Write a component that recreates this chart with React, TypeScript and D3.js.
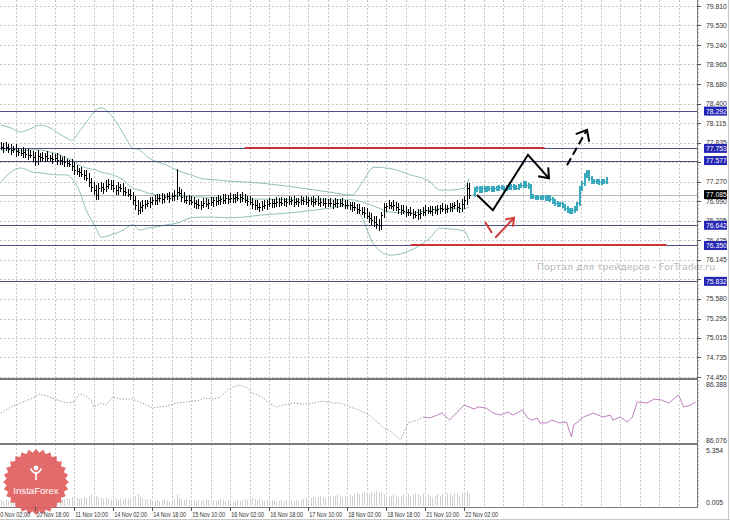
import React from "react";
import * as d3 from "d3";

// ---------- DATA ----------
const priceTicks = [79.81, 79.53, 79.24, 78.965, 78.68, 78.4, 78.115, 77.835, 77.55, 77.27, 76.99, 76.705, 76.425, 76.145, 75.86, 75.58, 75.295, 75.015, 74.735, 74.45];
const timeLabels = ["10 Nov 02:00", "10 Nov 18:00", "11 Nov 10:00", "14 Nov 02:00", "14 Nov 18:00", "15 Nov 10:00", "16 Nov 02:00", "16 Nov 18:00", "17 Nov 10:00", "18 Nov 02:00", "18 Nov 18:00", "21 Nov 10:00", "22 Nov 02:00"];
const timeLabelBars = [-2, 14, 30, 46, 62, 78, 94, 110, 126, 142, 158, 174, 190];
const gridBars = [-2, 6, 14, 22, 30, 38, 46, 54, 62, 70, 78, 86, 94, 102, 110, 118, 126, 134, 142, 150, 158, 166, 174, 182, 190, 198, 206, 214, 222, 230, 238, 246, 254, 262, 270, 278, 286];

const closes = [77.78, 77.76, 77.77, 77.75, 77.73, 77.74, 77.71, 77.70, 77.69, 77.70, 77.67, 77.66, 77.66, 77.63, 77.57, 77.64, 77.63, 77.62, 77.64, 77.61, 77.61, 77.60, 77.62, 77.59, 77.58, 77.57, 77.55, 77.54, 77.53, 77.50, 77.44, 77.42, 77.41, 77.39, 77.37, 77.33, 77.27, 77.20, 77.15, 77.08, 77.18, 77.20, 77.17, 77.21, 77.24, 77.22, 77.18, 77.15, 77.19, 77.18, 77.14, 77.12, 77.10, 77.08, 77.00, 76.93, 76.86, 76.90, 76.93, 76.95, 76.96, 76.98, 77.00, 77.01, 77.03, 77.04, 77.02, 77.05, 77.06, 77.04, 77.06, 77.08, 77.12, 77.11, 77.05, 77.01, 77.00, 77.01, 76.98, 76.96, 76.95, 76.93, 76.94, 76.96, 76.95, 76.97, 76.98, 77.00, 76.99, 77.01, 77.02, 77.00, 77.03, 77.02, 77.04, 77.03, 77.05, 77.04, 77.05, 77.03, 77.01, 76.99, 76.98, 76.95, 76.93, 76.91, 76.90, 76.92, 76.93, 76.95, 76.96, 76.97, 76.96, 76.98, 76.98, 76.97, 76.99, 76.98, 76.99, 77.00, 76.98, 76.99, 76.98, 77.00, 76.99, 76.98, 77.00, 76.99, 76.98, 76.99, 76.97, 76.98, 76.97, 76.96, 76.97, 76.96, 76.95, 76.96, 76.97, 76.96, 76.95, 76.94, 76.93, 76.93, 76.91, 76.90, 76.88, 76.86, 76.84, 76.82, 76.78, 76.75, 76.72, 76.69, 76.66, 76.65, 76.79, 76.90, 76.92, 76.93, 76.92, 76.93, 76.90, 76.88, 76.86, 76.85, 76.83, 76.83, 76.82, 76.80, 76.79, 76.80, 76.82, 76.84, 76.86, 76.85, 76.85, 76.87, 76.86, 76.87, 76.89, 76.88, 76.87, 76.89, 76.90, 76.92, 76.93, 76.91, 76.89, 76.95, 77.01, 77.18, 77.085];
const wickUp = [7, 5, 8, 5, 7, 5, 7, 5, 5, 7, 5, 8, 7, 5, 7, 9, 5, 7, 5, 7, 5, 8, 5, 7, 7, 5, 7, 5, 5, 7, 5, 7, 5, 7, 5, 7, 7, 5, 7, 8, 8, 7, 5, 9, 7, 5, 7, 5, 8, 5, 7, 5, 5, 7, 5, 7, 7, 8, 7, 5, 5, 7, 5, 7, 7, 5, 7, 5, 5, 7, 5, 7, 34, 7, 5, 7, 5, 7, 5, 7, 5, 7, 5, 7, 7, 5, 7, 5, 5, 7, 5, 7, 7, 5, 7, 5, 5, 7, 5, 7, 7, 5, 7, 5, 5, 7, 5, 7, 7, 5, 7, 5, 5, 7, 5, 7, 5, 5, 7, 5, 7, 5, 5, 7, 5, 7, 5, 5, 7, 5, 7, 5, 5, 7, 5, 7, 5, 7, 5, 5, 7, 5, 7, 5, 5, 7, 5, 7, 5, 7, 7, 5, 7, 5, 8, 7, 5, 7, 5, 7, 5, 7, 5, 7, 5, 7, 7, 5, 7, 5, 5, 7, 5, 7, 7, 5, 7, 5, 5, 7, 5, 7, 7, 5, 7, 5, 5, 7, 5, 7, 5, 7, 8, 16, 6];
const wickDn = [5, 7, 5, 7, 7, 5, 8, 5, 5, 7, 5, 7, 5, 7, 7, 5, 7, 5, 7, 5, 5, 7, 5, 7, 7, 5, 7, 5, 5, 7, 7, 5, 7, 5, 7, 5, 8, 7, 7, 7, 7, 5, 7, 5, 5, 7, 5, 7, 7, 5, 7, 5, 5, 7, 7, 7, 7, 5, 7, 5, 5, 7, 5, 7, 7, 5, 7, 5, 5, 7, 5, 7, 7, 5, 7, 5, 5, 7, 5, 7, 7, 5, 7, 5, 5, 7, 5, 7, 7, 5, 7, 5, 5, 7, 5, 7, 7, 5, 7, 5, 5, 7, 5, 7, 7, 5, 7, 5, 5, 7, 5, 7, 7, 5, 7, 5, 5, 7, 5, 5, 7, 5, 7, 5, 5, 5, 7, 5, 7, 5, 5, 7, 5, 7, 5, 5, 7, 5, 7, 5, 5, 7, 5, 7, 7, 5, 7, 5, 5, 7, 5, 7, 7, 7, 7, 9, 7, 5, 7, 5, 5, 7, 5, 7, 7, 5, 7, 5, 5, 7, 5, 7, 7, 5, 7, 5, 5, 7, 5, 7, 7, 5, 7, 5, 5, 7, 5, 7, 7, 5, 7, 7, 6];
const volumes = [0.6, 0.5, 0.7, 0.5, 0.6, 0.4, 0.5, 0.6, 0.5, 0.7, 0.6, 0.5, 0.6, 0.8, 0.9, 0.6, 0.5, 0.6, 0.4, 0.5, 0.6, 0.5, 0.7, 0.6, 0.5, 0.6, 0.7, 0.8, 0.7, 0.9, 1.0, 0.8, 0.7, 0.8, 0.9, 0.8, 1.0, 1.1, 0.9, 1.0, 0.9, 0.8, 0.7, 0.8, 0.7, 0.6, 0.7, 0.8, 0.6, 0.7, 0.6, 0.8, 0.7, 0.8, 0.9, 1.0, 1.1, 0.9, 0.8, 0.7, 0.6, 0.7, 0.6, 0.5, 0.6, 0.5, 0.6, 0.7, 0.6, 0.5, 0.6, 0.7, 1.1, 0.8, 0.7, 0.6, 0.7, 0.6, 0.5, 0.6, 0.5, 0.6, 0.5, 0.6, 0.7, 0.6, 0.5, 0.6, 0.5, 0.6, 0.7, 0.6, 0.5, 0.6, 0.5, 0.4, 0.5, 0.6, 0.5, 0.6, 0.7, 0.6, 0.7, 0.8, 0.7, 0.6, 0.7, 0.6, 0.5, 0.6, 0.5, 0.6, 0.5, 0.4, 0.5, 0.6, 0.5, 0.6, 0.7, 0.6, 0.5, 0.6, 0.5, 0.6, 0.7, 0.8, 0.7, 0.8, 0.9, 0.8, 0.9, 1.0, 0.9, 0.8, 0.9, 1.0, 0.9, 1.0, 1.1, 1.0, 0.9, 1.0, 0.9, 1.1, 1.0, 1.1, 1.2, 1.1, 1.2, 1.3, 1.2, 1.1, 1.3, 1.2, 1.4, 1.3, 1.3, 1.1, 1.0, 0.9, 1.0, 1.1, 1.0, 0.9, 1.0, 1.1, 1.0, 1.1, 1.0, 1.1, 1.2, 1.1, 1.0, 1.1, 1.0, 1.1, 1.0, 0.9, 1.0, 1.1, 1.0, 1.1, 1.0, 1.2, 1.1, 1.0, 1.2, 1.1, 1.0, 1.2, 1.3, 1.4, 1.1];

const forecastStart = 194;
const forecast = [77.16, 77.17, 77.15, 77.17, 77.16, 77.18, 77.17, 77.16, 77.18, 77.17, 77.19, 77.18, 77.17, 77.19, 77.18, 77.20, 77.19, 77.18, 77.21, 77.22, 77.24, 77.22, 77.20, 77.06, 77.05, 77.04, 77.05, 77.04, 77.05, 77.03, 77.04, 77.02, 76.99, 76.96, 76.94, 76.95, 76.92, 76.88, 76.86, 76.84, 76.86, 76.88, 76.95, 77.17, 77.25, 77.36, 77.40, 77.32, 77.27, 77.28, 77.27, 77.26, 77.28, 77.27, 77.30];

const bbBars = [0, 4, 8, 13, 16, 20, 24, 27, 29, 32, 35, 39, 41, 45, 50, 54, 57, 60, 64, 68, 72, 78, 82, 87, 94, 107, 121, 135, 144, 148, 153, 160, 168, 176, 180, 184, 190, 192];
const bbUpper = [78.09, 78.05, 77.99, 78.05, 78.09, 78.05, 77.96, 77.90, 77.87, 77.99, 78.13, 78.31, 78.34, 78.24, 77.98, 77.76, 77.73, 77.63, 77.56, 77.51, 77.44, 77.37, 77.32, 77.30, 77.28, 77.25, 77.19, 77.12, 77.08, 77.25, 77.48, 77.46, 77.37, 77.27, 77.15, 77.15, 77.18, 77.32];
const bbMid = [77.73, 77.73, 77.72, 77.73, 77.73, 77.70, 77.66, 77.61, 77.59, 77.51, 77.47, 77.44, 77.41, 77.38, 77.30, 77.18, 77.15, 77.11, 77.08, 77.06, 77.06, 77.05, 77.05, 77.04, 77.02, 77.02, 77.01, 77.01, 77.01, 76.98, 76.92, 76.83, 76.82, 76.86, 76.88, 76.88, 76.88, 76.91];
const bbLower = [77.27, 77.41, 77.47, 77.41, 77.40, 77.38, 77.37, 77.37, 77.32, 77.15, 76.86, 76.60, 76.47, 76.50, 76.57, 76.65, 76.57, 76.60, 76.62, 76.65, 76.67, 76.75, 76.76, 76.76, 76.75, 76.79, 76.83, 76.89, 76.93, 76.76, 76.36, 76.21, 76.28, 76.46, 76.60, 76.59, 76.56, 76.43];

const blueLevels = [78.292, 77.753, 77.577, 76.642, 76.35, 75.832];
const currentPrice = 77.085;
const redLevelPrices = [77.753, 76.35];
const redLevelFrom = [100, 168];
const redLevelTo = [223, 273];

const arrowBars = [195.3, 201.8, 216.2, 224.8];
const arrowPrices = [77.08, 76.86, 77.66, 77.32];
const dashArrowBars = [232.2, 240.4];
const dashArrowPrices = [77.51, 78.02];
const redArrowBars = [198.6, 202.7, 210.5];
const redArrowPrices = [76.69, 76.46, 76.75];

const indBars = [0, 4, 8, 13, 16, 20, 23, 27, 30, 32, 34, 37, 38, 41, 43, 46, 49, 54, 58, 62, 65, 68, 72, 76, 82, 83, 87, 90, 93, 95, 98, 101, 103, 107, 110, 113, 116, 120, 124, 128, 132, 136, 139, 143, 147, 151, 157, 160, 164, 167, 171, 173, 176, 179, 181, 184, 188, 190, 194, 196, 199, 202, 205, 208, 210, 214, 216, 218, 220, 221, 224, 226, 229, 232, 234, 235, 239, 243, 247, 250, 251, 254, 257, 259, 261, 265, 268, 271, 274, 278, 280, 283, 285];
const indVals = [86.226, 86.260, 86.282, 86.310, 86.332, 86.316, 86.299, 86.282, 86.288, 86.332, 86.327, 86.299, 86.260, 86.282, 86.271, 86.316, 86.304, 86.304, 86.282, 86.254, 86.260, 86.265, 86.282, 86.288, 86.299, 86.310, 86.304, 86.316, 86.355, 86.371, 86.382, 86.366, 86.338, 86.316, 86.282, 86.260, 86.271, 86.282, 86.276, 86.282, 86.293, 86.282, 86.282, 86.260, 86.243, 86.215, 86.143, 86.121, 86.076, 86.171, 86.187, 86.204, 86.199, 86.215, 86.226, 86.187, 86.243, 86.271, 86.249, 86.260, 86.254, 86.226, 86.215, 86.232, 86.215, 86.243, 86.199, 86.187, 86.199, 86.171, 86.171, 86.187, 86.171, 86.176, 86.093, 86.160, 86.204, 86.226, 86.204, 86.215, 86.187, 86.204, 86.176, 86.204, 86.288, 86.282, 86.304, 86.299, 86.282, 86.327, 86.260, 86.271, 86.288];
const indSolidFromBar = 173;
const indLabels = ["86.388", "86.076"];
const indLabelValues = [86.388, 86.076];
const volLabels = ["5.354", "0.005"];
const volLabelValues = [5.354, 0.005];

const watermark = "Портал для трейдеров - ForTrader.ru";
const logoText = "InstaForex";

// ---------- SCALES ----------
const AXIS_X = 697;
const x = d3.scaleLinear().domain([0, 285]).range([1, 1 + 285 * 2.4375]);
const y = d3.scaleLinear().domain([74.45, 79.81]).range([377, 6]);
const yInd = d3.scaleLinear().domain([86.076, 86.388]).range([440, 384]);
const yVol = d3.scaleLinear().domain([0, 5.354]).range([506, 450]);

const FONT = "'Liberation Sans', Arial, sans-serif";

function head(x1: number, y1: number, x2: number, y2: number, len: number, spread: number) {
  const a = Math.atan2(y1 - y2, x1 - x2);
  return `M${x2 + len * Math.cos(a + spread)},${y2 + len * Math.sin(a + spread)}L${x2},${y2}L${x2 + len * Math.cos(a - spread)},${y2 + len * Math.sin(a - spread)}`;
}

export default function App() {
  const crisp = (v: number) => Math.round(v) + 0.5;

  const bandLine = (vals: number[]) =>
    d3.line<number>().x((_, i) => x(bbBars[i])).y((v) => y(v)).curve(d3.curveMonotoneX)(vals) || "";

  const indPts = indBars.map((b, i) => [x(b), yInd(indVals[i])] as [number, number]);
  const splitIdx = indBars.indexOf(indSolidFromBar);
  const lineGen = d3.line().curve(d3.curveLinear);
  const indDotted = lineGen(indPts.slice(0, splitIdx + 1)) || "";
  const indSolid = lineGen(indPts.slice(splitIdx)) || "";

  const bars = closes.map((c, i) => {
    const o = i > 0 ? closes[i - 1] : c;
    const hi = Math.max(o, c) + (wickUp[i] ?? 5) / 100;
    const lo = Math.min(o, c) - (wickDn[i] ?? 5) / 100;
    const px = crisp(x(i));
    return { px, o: y(o), c: y(c), hi: y(hi), lo: y(lo) };
  });

  const fBars = forecast.map((c, i) => {
    const o = i > 0 ? forecast[i - 1] : closes[closes.length - 1];
    const hi = Math.max(o, c) + 0.035;
    const lo = Math.min(o, c) - 0.035;
    return { px: Math.round(x(forecastStart + i)), hi: y(hi), lo: y(lo), o: y(o), c: y(c) };
  });

  const arrowPts = arrowBars.map((b, i) => [x(b), y(arrowPrices[i])]);
  const dashPts = dashArrowBars.map((b, i) => [x(b), y(dashArrowPrices[i])]);
  const redPts = redArrowBars.map((b, i) => [x(b), y(redArrowPrices[i])]);
  const ptsStr = (p: number[][]) => p.map((q) => q.join(",")).join(" ");
  const last = (p: number[][]) => p[p.length - 1];
  const prev = (p: number[][]) => p[p.length - 2];

  const star = d3.range(56).map((k) => {
    const r = k % 2 === 0 ? 33 : 29.5;
    const a = (k * Math.PI) / 28 - Math.PI / 2;
    return [36 + r * Math.cos(a), 482 + r * Math.sin(a)];
  });

  const labelX = 706;
  // tick labels that sit fully under a level box are not shown (as in the terminal)
  const visibleTicks = priceTicks.filter((t) => !blueLevels.some((p) => Math.abs(y(p) - y(t)) < 4));

  return (
    <svg width={730} height={520} style={{ position: "absolute", left: 0, top: 0 }} fontFamily={FONT}>
      <defs>
        <clipPath id="mainClip"><rect x={0} y={0} width={AXIS_X} height={378} /></clipPath>
        <clipPath id="indClip"><rect x={0} y={381} width={AXIS_X} height={62} /></clipPath>
        <clipPath id="allClip"><rect x={0} y={0} width={730} height={520} /></clipPath>
      </defs>
      <rect x={0} y={0} width={730} height={520} fill="#ffffff" />

      {/* grid */}
      <g stroke="#c8c8c8" strokeWidth={1} strokeDasharray="2,2" shapeRendering="crispEdges">
        {priceTicks.map((t) => (
          <line key={"h" + t} x1={0} x2={AXIS_X} y1={crisp(y(t))} y2={crisp(y(t))} />
        ))}
        {gridBars.map((b) => (
          <line key={"v" + b} x1={crisp(x(b))} x2={crisp(x(b))} y1={0} y2={507} />
        ))}
      </g>

      {/* volume histogram */}
      <g stroke="#d0d0d0" strokeWidth={1} shapeRendering="crispEdges">
        {volumes.map((v, i) => (
          <line key={"vol" + i} x1={crisp(x(i))} x2={crisp(x(i))} y1={yVol(0)} y2={yVol(v)} />
        ))}
      </g>

      <g clipPath="url(#mainClip)">
        {/* bollinger */}
        <g fill="none" stroke="#8fc2b2" strokeWidth={1}>
          <path d={bandLine(bbUpper)} />
          <path d={bandLine(bbMid)} />
          <path d={bandLine(bbLower)} />
        </g>

        {/* current price line */}
        <line x1={0} x2={AXIS_X} y1={crisp(y(currentPrice))} y2={crisp(y(currentPrice))} stroke="#b4b4b4" strokeWidth={1} shapeRendering="crispEdges" />

        {/* blue level lines */}
        {blueLevels.map((p) => (
          <line key={"bl" + p} x1={0} x2={AXIS_X} y1={crisp(y(p))} y2={crisp(y(p))} stroke="#4e4e86" strokeWidth={1} shapeRendering="crispEdges" />
        ))}

        {/* red lines */}
        {redLevelPrices.map((p, i) => (
          <line key={"rl" + i} x1={x(redLevelFrom[i])} x2={x(redLevelTo[i])} y1={Math.round(y(p))} y2={Math.round(y(p))} stroke="#c83434" strokeWidth={2} />
        ))}

        {/* OHLC bars */}
        <g stroke="#000" strokeWidth={1} shapeRendering="crispEdges">
          {bars.map((b, i) => (
            <g key={"b" + i}>
              <line x1={b.px} x2={b.px} y1={b.hi} y2={b.lo} />
              <line x1={b.px - 1} x2={b.px} y1={crisp(b.o)} y2={crisp(b.o)} />
              <line x1={b.px} x2={b.px + 1.5} y1={crisp(b.c)} y2={crisp(b.c)} />
            </g>
          ))}
        </g>

        {/* forecast bars */}
        <g stroke="#3aa9bd" shapeRendering="crispEdges">
          {fBars.map((b, i) => (
            <g key={"f" + i}>
              <line x1={b.px + 0.5} x2={b.px + 0.5} y1={b.hi} y2={b.lo} strokeWidth={2} />
              <line x1={b.px - 1} x2={b.px + 1} y1={b.o} y2={b.o} strokeWidth={1} />
              <line x1={b.px} x2={b.px + 2} y1={b.c} y2={b.c} strokeWidth={1} />
            </g>
          ))}
        </g>

        {/* arrows */}
        <g fill="none" strokeWidth={2} strokeLinecap="butt" strokeLinejoin="miter">
          <polyline points={ptsStr(arrowPts)} stroke="#000" />
          <path d={head(prev(arrowPts)[0], prev(arrowPts)[1], last(arrowPts)[0], last(arrowPts)[1], 11, 0.66)} stroke="#000" />
          <polyline points={ptsStr(dashPts)} stroke="#000" strokeDasharray="8,4" />
          <path d={head(prev(dashPts)[0], prev(dashPts)[1], last(dashPts)[0], last(dashPts)[1], 12, 0.7)} stroke="#000" />
          <polyline points={ptsStr(redPts)} stroke="#d03c3c" strokeDasharray="13,6,40" />
          <path d={head(prev(redPts)[0], prev(redPts)[1], last(redPts)[0], last(redPts)[1], 9, 0.63)} stroke="#d03c3c" />
        </g>
      </g>

      {/* watermark */}
      <text x={537} y={270} fontSize={9.4} fill="#b8b8b8" fontFamily="'DejaVu Sans', Verdana, sans-serif">{watermark}</text>

      {/* indicator */}
      <g clipPath="url(#indClip)" fill="none">
        <path d={indDotted} stroke="#a98ca4" strokeWidth={1} strokeDasharray="1.3,1.7" />
        <path d={indSolid} stroke="#c07fc0" strokeWidth={1} />
      </g>

      {/* panel separators and axes */}
      <g shapeRendering="crispEdges">
        <rect x={0} y={378} width={AXIS_X + 1} height={2} fill="#7a7a7a" />
        <rect x={0} y={443} width={AXIS_X + 1} height={2} fill="#7a7a7a" />
        <line x1={0} x2={AXIS_X} y1={507.5} y2={507.5} stroke="#7a7a7a" />
        <line x1={AXIS_X + 0.5} x2={AXIS_X + 0.5} y1={0} y2={508} stroke="#7a7a7a" />
        <line x1={728.5} x2={728.5} y1={0} y2={520} stroke="#c8c8c8" />
        <line x1={0} x2={730} y1={519.5} y2={519.5} stroke="#c8c8c8" />
      </g>

      {/* price axis labels */}
      <g fontSize={6.8} fill="#333">
        {priceTicks.map((t) => (
          <line key={"pt" + t} x1={AXIS_X} x2={AXIS_X + 4} y1={crisp(y(t))} y2={crisp(y(t))} stroke="#555" shapeRendering="crispEdges" />
        ))}
        {visibleTicks.map((t) => (
          <text key={"pl" + t} x={labelX} y={y(t)} dominantBaseline="central">{t.toFixed(3)}</text>
        ))}
        {indLabels.map((l, i) => (
          <text key={"il" + l} x={labelX} y={yInd(indLabelValues[i])} dominantBaseline="central">{l}</text>
        ))}
        {volLabels.map((l, i) => (
          <text key={"vl" + l} x={labelX} y={i === 0 ? yVol(volLabelValues[i]) : yVol(volLabelValues[i]) - 3} dominantBaseline="central">{l}</text>
        ))}
      </g>

      {/* level boxes */}
      <g fontSize={6.8}>
        {blueLevels.map((p) => (
          <g key={"bx" + p}>
            <rect x={704} y={y(p) - 4.5} width={23} height={9} fill="#2626b4" />
            <text x={labelX} y={y(p)} dominantBaseline="central" fill="#fff">{p.toFixed(3)}</text>
          </g>
        ))}
        <rect x={704} y={y(currentPrice) - 4.5} width={23} height={9} fill="#000" />
        <text x={labelX} y={y(currentPrice)} dominantBaseline="central" fill="#fff">{currentPrice.toFixed(3)}</text>
      </g>

      {/* logo */}
      <g>
        <polygon points={star.map((p) => p.join(",")).join(" ")} fill="#e05d5d" fillOpacity={0.92} />
        <circle cx={36} cy={468} r={2.4} fill="#fff" />
        <path d="M30.5,468.5 Q36,478 41.5,468.5" fill="none" stroke="#fff" strokeWidth={1.6} />
        <line x1={36} x2={36} y1={472} y2={480} stroke="#fff" strokeWidth={1.6} />
        <text x={36} y={494} textAnchor="middle" fontSize={9.6} fill="#fff" fontFamily={FONT}>{logoText}</text>
      </g>

      {/* time labels */}
      <g fontSize={6.4} fill="#333" clipPath="url(#allClip)">
        {timeLabels.map((l, i) => (
          <g key={"tl" + l}>
            <line x1={crisp(x(timeLabelBars[i]))} x2={crisp(x(timeLabelBars[i]))} y1={507} y2={511} stroke="#555" shapeRendering="crispEdges" />
            <text x={x(timeLabelBars[i]) + 1} y={514.5} dominantBaseline="central" textLength={33} lengthAdjust="spacingAndGlyphs">{l}</text>
          </g>
        ))}
      </g>
    </svg>
  );
}
